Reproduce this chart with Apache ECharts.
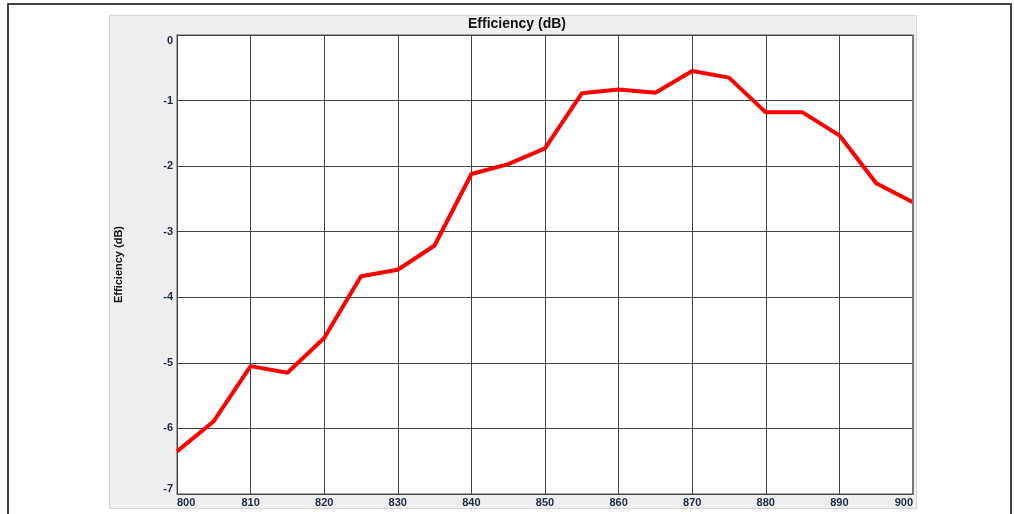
<!DOCTYPE html>
<html>
<head>
<meta charset="utf-8">
<script src="https://cdn.jsdelivr.net/npm/echarts@6/dist/echarts.min.js"></script>
<style>
  html, body { margin: 0; padding: 0; background: #fff; }
  #chart { width: 1014px; height: 514px; }
</style>
</head>
<body>
<div id="chart"></div>
<script>
// frequency (MHz) and efficiency (dB)
const freq = [800, 805, 810, 815, 820, 825, 830, 835, 840, 845, 850,
              855, 860, 865, 870, 875, 880, 885, 890, 895, 900]
const efficiency = [-6.35, -5.89, -5.05, -5.15, -4.62, -3.68, -3.58, -3.21, -2.12, -1.97, -1.73,
                    -0.89, -0.83, -0.88, -0.55, -0.65, -1.18, -1.18, -1.53, -2.26, -2.55]
const chartTitle = 'Efficiency (dB)'
const yName = 'Efficiency (dB)'

const labelColor = '#1c2a48'
const fontFamily = 'Liberation Sans, Arial, sans-serif'

const chart = echarts.init(document.getElementById('chart'))

const option = {
  animation: false,
  backgroundColor: '#ffffff',
  title: {
    text: chartTitle,
    left: 512,
    top: 12,
    textAlign: 'center',
    textStyle: { fontFamily, fontSize: 14, fontWeight: 'bold', color: '#111' }
  },
  graphic: [
    { // outer frame
      type: 'rect', z: -20, silent: true,
      shape: { x: 8, y: 4, width: 1003, height: 530 },
      style: { fill: 'none', stroke: '#444', lineWidth: 2 }
    },
    { // grey panel
      type: 'rect', z: -10, silent: true,
      shape: { x: 109.5, y: 15.5, width: 807, height: 493 },
      style: { fill: '#eeeeee', stroke: '#b4b4b4', lineWidth: 1, lineDash: [1, 1] }
    },
    { // darker right edge of plot
      type: 'rect', z: 10, silent: true,
      shape: { x: 912, y: 35, width: 2, height: 460 },
      style: { fill: '#777' }
    }
  ],
  grid: {
    left: 177, top: 35, right: 101, bottom: 20,
    show: true,
    backgroundColor: '#ffffff',
    borderColor: '#888',
    borderWidth: 1.5
  },
  xAxis: {
    type: 'value',
    min: 800, max: 900, interval: 10,
    axisLine: { show: false },
    axisTick: { show: false },
    splitLine: { show: true, lineStyle: { color: '#444', width: 1 } },
    axisLabel: {
      margin: 3,
      color: labelColor, fontFamily, fontSize: 11, fontWeight: 'bold',
      alignMinLabel: 'left', alignMaxLabel: 'right'
    }
  },
  yAxis: {
    type: 'value',
    min: -7, max: 0, interval: 1,
    name: yName,
    nameLocation: 'middle',
    nameGap: 53,
    nameTextStyle: { fontFamily, fontSize: 11, fontWeight: 'bold', color: '#111' },
    axisLine: { show: false },
    axisTick: { show: false },
    splitLine: { show: true, lineStyle: { color: '#444', width: 1 } },
    axisLabel: {
      margin: 4,
      color: labelColor, fontFamily, fontSize: 11, fontWeight: 'bold',
      verticalAlignMinLabel: 'bottom', verticalAlignMaxLabel: 'top'
    }
  },
  series: [{
    type: 'line',
    data: freq.map((f, i) => [f, efficiency[i]]),
    showSymbol: false,
    lineStyle: { color: '#ff0000', width: 4 },
    itemStyle: { color: '#ff0000' }
  }]
}

chart.setOption(option)
</script>
</body>
</html>
